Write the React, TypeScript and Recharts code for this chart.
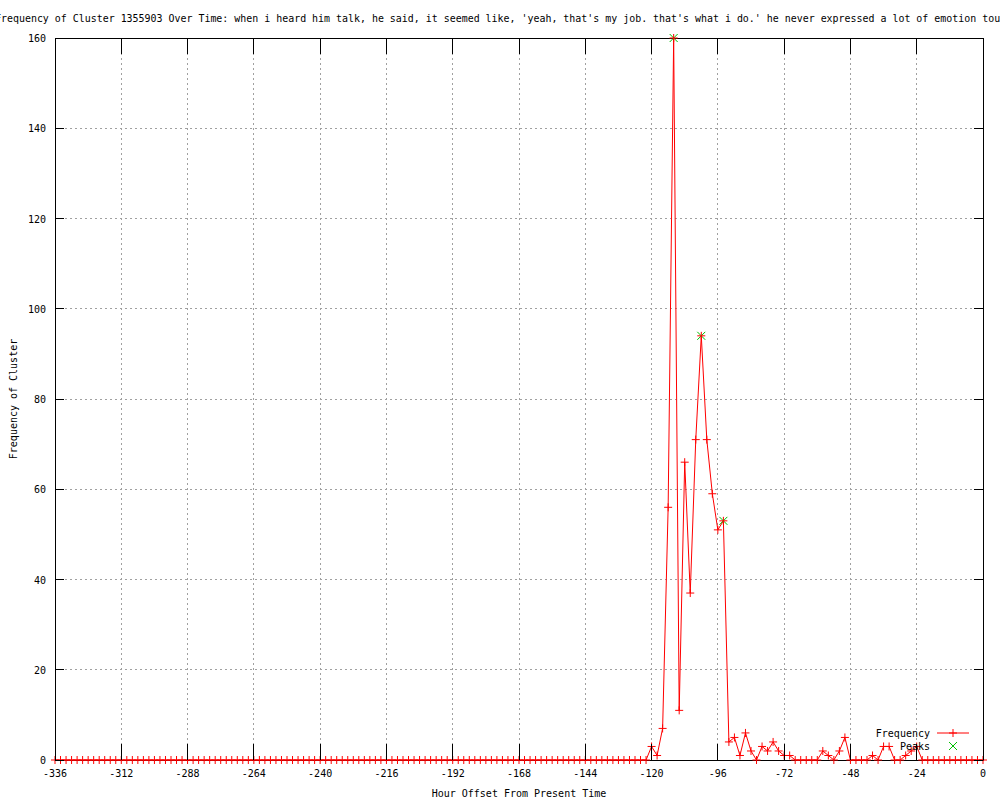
import React from "react";
import {
  CartesianGrid,
  ComposedChart,
  Legend,
  Line,
  ReferenceArea,
  Scatter,
  XAxis,
  YAxis,
} from "recharts";

const hours = [
  -336, -334, -332, -330, -328, -326, -324, -322, -320, -318, -316, -314,
  -312, -310, -308, -306, -304, -302, -300, -298, -296, -294, -292, -290,
  -288, -286, -284, -282, -280, -278, -276, -274, -272, -270, -268, -266,
  -264, -262, -260, -258, -256, -254, -252, -250, -248, -246, -244, -242,
  -240, -238, -236, -234, -232, -230, -228, -226, -224, -222, -220, -218,
  -216, -214, -212, -210, -208, -206, -204, -202, -200, -198, -196, -194,
  -192, -190, -188, -186, -184, -182, -180, -178, -176, -174, -172, -170,
  -168, -166, -164, -162, -160, -158, -156, -154, -152, -150, -148, -146,
  -144, -142, -140, -138, -136, -134, -132, -130, -128, -126, -124, -122,
  -120, -118, -116, -114, -112, -110, -108, -106, -104, -102, -100, -98,
  -96, -94, -92, -90, -88, -86, -84, -82, -80, -78, -76, -74,
  -72, -70, -68, -66, -64, -62, -60, -58, -56, -54, -52, -50,
  -48, -46, -44, -42, -40, -38, -36, -34, -32, -30, -28, -26,
  -24, -22, -20, -18, -16, -14, -12, -10, -8, -6, -4, -2,
  0,
];

const frequency = [
  0, 0, 0, 0, 0, 0, 0, 0, 0, 0, 0, 0,
  0, 0, 0, 0, 0, 0, 0, 0, 0, 0, 0, 0,
  0, 0, 0, 0, 0, 0, 0, 0, 0, 0, 0, 0,
  0, 0, 0, 0, 0, 0, 0, 0, 0, 0, 0, 0,
  0, 0, 0, 0, 0, 0, 0, 0, 0, 0, 0, 0,
  0, 0, 0, 0, 0, 0, 0, 0, 0, 0, 0, 0,
  0, 0, 0, 0, 0, 0, 0, 0, 0, 0, 0, 0,
  0, 0, 0, 0, 0, 0, 0, 0, 0, 0, 0, 0,
  0, 0, 0, 0, 0, 0, 0, 0, 0, 0, 0, 0,
  3, 1, 7, 56, 160, 11, 66, 37, 71, 94, 71, 59,
  51, 53, 4, 5, 1, 6, 2, 0, 3, 2, 4, 2,
  1, 1, 0, 0, 0, 0, 0, 2, 1, 0, 2, 5,
  0, 0, 0, 0, 1, 0, 3, 3, 0, 0, 1, 2,
  3, 0, 0, 0, 0, 0, 0, 0, 0, 0, 0, 0,
  0,
];

const peakHours = [-112, -102, -94];
const peakValues = [160, 94, 53];

const xTicks = [-336, -312, -288, -264, -240, -216, -192, -168, -144, -120, -96, -72, -48, -24, 0];
const yTicks = [0, 20, 40, 60, 80, 100, 120, 140, 160];

const TITLE =
  "Frequency of Cluster 1355903 Over Time: when i heard him talk, he said, it seemed like, 'yeah, that's my job. that's what i do.' he never expressed a lot of emotion tou";

const FONT = "'DejaVu Sans Mono', monospace";
const PLOT_W = 928;
const PLOT_H = 722;
const RED = "#ff0000";
const GREEN = "#00c000";

const data = hours.map((h, i) => ({ hour: h, frequency: frequency[i] }));
const peaks = peakHours.map((h, i) => ({ hour: h, peak: peakValues[i] }));

function XTick(props: any) {
  const { x, y, payload } = props;
  return (
    <g>
      <line x1={x} y1={y} x2={x} y2={y - 16} stroke="#000" shapeRendering="crispEdges" />
      <line x1={x} y1={y - PLOT_H} x2={x} y2={y - PLOT_H + 16} stroke="#000" shapeRendering="crispEdges" />
      <text x={x} y={y + 17} textAnchor="middle" fontFamily={FONT} fontSize={10} fill="#000">
        {payload.value}
      </text>
    </g>
  );
}

function YTick(props: any) {
  const { x, y, payload } = props;
  return (
    <g>
      <line x1={x} y1={y} x2={x + 9} y2={y} stroke="#000" shapeRendering="crispEdges" />
      <line x1={x + PLOT_W} y1={y} x2={x + PLOT_W - 9} y2={y} stroke="#000" shapeRendering="crispEdges" />
      <text x={x - 9} y={y + 4} textAnchor="end" fontFamily={FONT} fontSize={10} fill="#000">
        {payload.value}
      </text>
    </g>
  );
}

function PlusDot(props: any) {
  const { cx, cy, index } = props;
  if (cx == null || cy == null) return <g key={index} />;
  return (
    <path
      key={index}
      d={`M${cx - 4},${cy}h8M${cx},${cy - 4}v8`}
      stroke={RED}
      strokeWidth={1}
      fill="none"
    />
  );
}

function CrossShape(props: any) {
  const { cx, cy } = props;
  return (
    <path
      d={`M${cx - 4},${cy - 4}l8,8M${cx - 4},${cy + 4}l8,-8`}
      stroke={GREEN}
      strokeWidth={1}
      fill="none"
    />
  );
}

function LegendBox() {
  return (
    <svg width={130} height={30} style={{ display: "block" }}>
      <text x={70} y={12.5} textAnchor="end" fontFamily={FONT} fontSize={10} fill="#000">
        Frequency
      </text>
      <line x1={77} y1={9} x2={109} y2={9} stroke={RED} />
      <path d="M89,9h8M93,5v8" stroke={RED} fill="none" />
      <text x={70} y={25.5} textAnchor="end" fontFamily={FONT} fontSize={10} fill="#000">
        Peaks
      </text>
      <path d="M89,18l8,8M89,26l8,-8" stroke={GREEN} fill="none" />
    </svg>
  );
}

export default function App() {
  return (
    <div style={{ position: "absolute", left: 0, top: 0, width: 1000, height: 800, background: "#fff" }}>
      <svg width={1000} height={30} style={{ position: "absolute", left: 0, top: 0 }}>
        <text x={-5} y={21.5} fontFamily={FONT} fontSize={9.95} fill="#000">
          {TITLE}
        </text>
      </svg>
      <ComposedChart
        width={1000}
        height={800}
        data={data}
        margin={{ top: 38, right: 17, bottom: 0, left: 15 }}
      >
        <CartesianGrid stroke="#a0a0a0" strokeDasharray="2 3" shapeRendering="crispEdges" />
        <XAxis
          dataKey="hour"
          type="number"
          domain={[-336, 0]}
          ticks={xTicks}
          height={40}
          tickSize={0}
          tickMargin={0}
          tickLine={false}
          axisLine={false}
          tick={XTick}
          interval={0}
          label={{
            content: (p: any) => (
              <text
                x={p.viewBox.x + p.viewBox.width / 2}
                y={p.viewBox.y + 37}
                textAnchor="middle"
                fontFamily={FONT}
                fontSize={10}
                fill="#000"
              >
                Hour Offset From Present Time
              </text>
            ),
          }}
        />
        <YAxis
          type="number"
          domain={[0, 160]}
          ticks={yTicks}
          width={40}
          tickSize={0}
          tickMargin={0}
          tickLine={false}
          axisLine={false}
          tick={YTick}
          interval={0}
          label={{
            content: (p: any) => {
              const cy = p.viewBox.y + p.viewBox.height / 2;
              return (
                <text
                  x={13}
                  y={cy}
                  transform={`rotate(-90 13 ${cy})`}
                  textAnchor="middle"
                  dominantBaseline="central"
                  fontFamily={FONT}
                  fontSize={10}
                  fill="#000"
                >
                  Frequency of Cluster
                </text>
              );
            },
          }}
        />
        <Line
          dataKey="frequency"
          type="linear"
          stroke={RED}
          strokeWidth={1}
          dot={PlusDot}
          activeDot={false}
          isAnimationActive={false}
        />
        <Scatter
          data={peaks}
          dataKey="peak"
          shape={CrossShape}
          isAnimationActive={false}
        />
        <ReferenceArea
          x1={-336}
          x2={0}
          y1={0}
          y2={160}
          fill="none"
          fillOpacity={0}
          stroke="#000"
          strokeWidth={1}
          shapeRendering="crispEdges"
          ifOverflow="visible"
        />
        <Legend
          layout="horizontal"
          verticalAlign="middle"
          align="center"
          wrapperStyle={{ position: "absolute", left: 860, top: 724, width: 130, height: 30 }}
          content={LegendBox}
        />
      </ComposedChart>
    </div>
  );
}
